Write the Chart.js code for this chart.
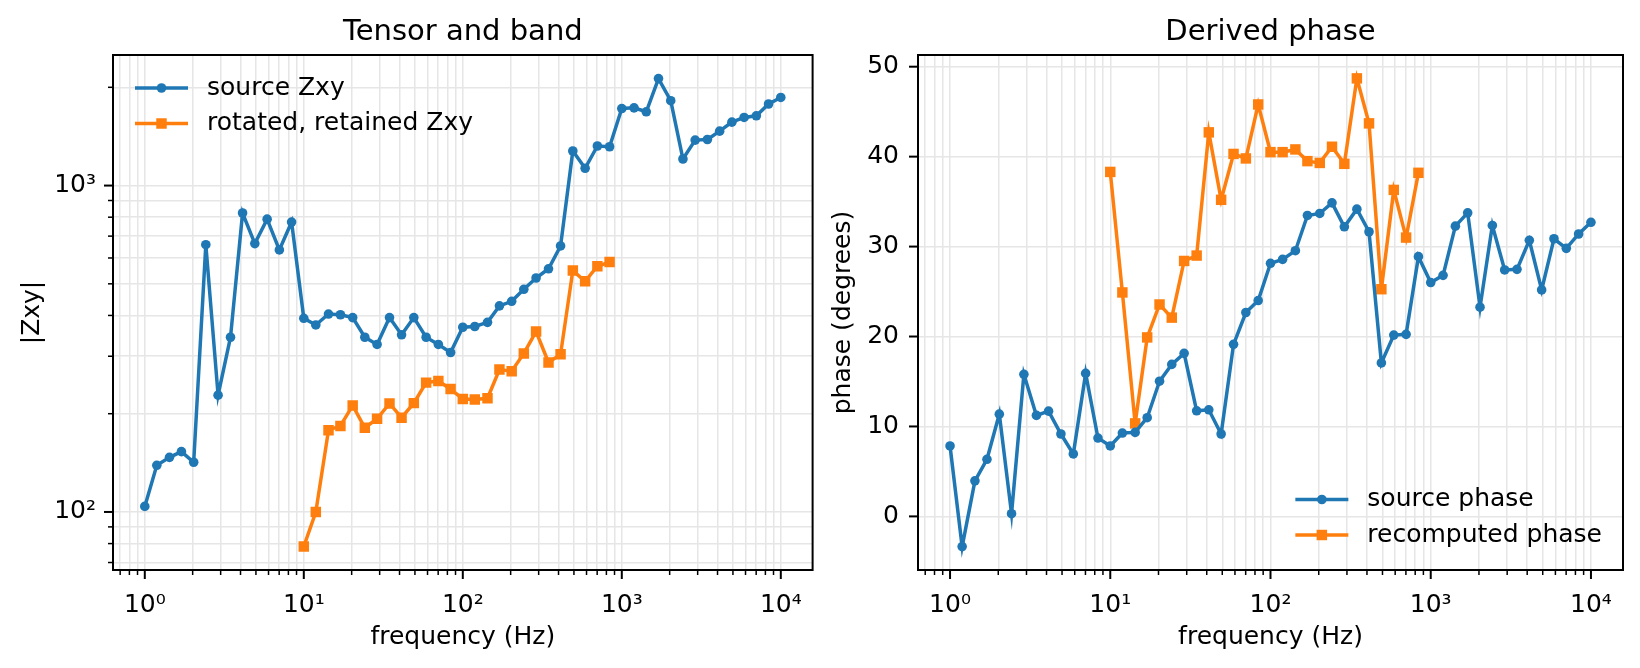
<!DOCTYPE html>
<html>
<head>
<meta charset="utf-8">
<script src="https://cdn.jsdelivr.net/npm/chart.js@4.4.1/dist/chart.umd.min.js"></script>
<style>
  html, body { margin: 0; padding: 0; background: #fff; }
  #wrap { position: relative; width: 1640px; height: 668px; }
  canvas { position: absolute; top: 0; }
</style>
</head>
<body>
<div id="wrap">
  <canvas id="zxyChart" width="820" height="668" style="left:0"></canvas>
  <canvas id="phaseChart" width="820" height="668" style="left:820px"></canvas>
</div>
<script>
// frequencies (Hz), 13 per decade
var freqHz = [1, 1.19, 1.43, 1.70, 2.03, 2.42, 2.89, 3.46, 4.12, 4.92, 5.88, 7.02, 8.38,
  10, 11.9, 14.3, 17.0, 20.3, 24.2, 28.9, 34.6, 41.2, 49.2, 58.8, 70.2, 83.8,
  100, 119, 143, 170, 203, 242, 289, 346, 412, 492, 588, 702, 838,
  1000, 1194, 1425, 1701, 2031, 2424, 2894, 3455, 4125, 4924, 5878, 7017, 8377, 10000];
// retained band: 10 Hz .. 838 Hz
var bandFreqHz = freqHz.slice(13, 39);

var sourceZxy = [104, 139, 147, 153, 142, 659, 228, 343, 824, 664, 789, 635, 773,
  392, 374, 404, 402, 394, 343, 326, 394, 349, 394, 343, 326, 308,
  368, 370, 381, 428, 442, 481, 521, 556, 653, 1276, 1130, 1322, 1315,
  1722, 1730, 1683, 2127, 1820, 1206, 1378, 1384, 1468, 1564, 1617, 1636, 1778, 1862];
var retainedZxy = [78.4, 100, 178, 183.5, 212, 181, 193, 215, 194.5, 215.5, 249, 252, 238,
  222, 221, 223, 273, 270, 306, 357, 287, 304, 549, 509, 566, 583];

var sourcePhase = [7.83, -3.36, 3.95, 6.35, 11.37, 0.30, 15.8, 11.23, 11.7, 9.16, 6.94, 15.9, 8.71,
  7.83, 9.27, 9.34, 10.97, 15.03, 16.9, 18.13, 11.74, 11.85, 9.16, 19.13, 22.67, 24.0,
  28.14, 28.58, 29.54, 33.46, 33.68, 34.86, 32.2, 34.16, 31.65, 17.06, 20.16, 20.24, 28.88,
  26.0, 26.8, 32.27, 33.75, 23.26, 32.35, 27.4, 27.47, 30.69, 25.18, 30.87, 29.8, 31.4, 32.7];
var recomputedPhase = [38.3, 24.9, 10.34, 19.9, 23.56, 22.1, 28.4, 29.0, 42.7, 35.2, 40.3, 39.8, 45.8,
  40.5, 40.5, 40.8, 39.5, 39.3, 41.1, 39.2, 48.7, 43.7, 25.26, 36.3, 31.0, 38.2];

var phaseTicks = [0, 10, 20, 30, 40, 50];

var BLUE = '#1f77b4';
var ORANGE = '#ff7f0e';
var GRID = '#e6e6e6';

Chart.defaults.font.family = '"DejaVu Sans", sans-serif';
Chart.defaults.color = '#000';

function xy(xs, ys) {
  return xs.map(function (x, i) { return { x: x, y: ys[i] }; });
}

function isDecade(v) {
  var e = Math.log10(v);
  return Math.abs(e - Math.round(e)) < 1e-6;
}

var SUP = { '0': '\u2070', '1': '\u00b9', '2': '\u00b2', '3': '\u00b3', '4': '\u2074' };
function decadeLabel(v) {
  if (!isDecade(v)) return '';
  return '10' + String(Math.round(Math.log10(v))).split('').map(function (c) { return SUP[c]; }).join('');
}

// 1..9 x 10^n ticks inside the axis range
function logTicks(scale) {
  var out = [];
  for (var e = Math.floor(Math.log10(scale.min)); e <= Math.ceil(Math.log10(scale.max)); e++) {
    for (var m = 1; m < 10; m++) {
      var v = m * Math.pow(10, e);
      if (v >= scale.min && v <= scale.max) out.push({ value: v });
    }
  }
  scale.ticks = out;
}

// keep the plot box fixed: no extra room for overhanging labels
function noPad(s) {
  s.paddingLeft = 0; s.paddingRight = 0; s.paddingTop = 0; s.paddingBottom = 0;
}

// tick marks (major long, minor short) and the four spines
var frameTicks = {
  id: 'frameTicks',
  afterDraw: function (chart) {
    var ctx = chart.ctx, a = chart.chartArea;
    ctx.save();
    ctx.strokeStyle = '#000';
    ['x', 'y'].forEach(function (id) {
      var s = chart.scales[id];
      s.ticks.forEach(function (t) {
        var major = s.type !== 'logarithmic' || isDecade(t.value);
        var len = major ? 9 : 5;
        var p = s.getPixelForValue(t.value);
        ctx.lineWidth = major ? 2 : 1.5;
        ctx.beginPath();
        if (id === 'x') { ctx.moveTo(p, a.bottom); ctx.lineTo(p, a.bottom + len); }
        else { ctx.moveTo(a.left, p); ctx.lineTo(a.left - len, p); }
        ctx.stroke();
      });
    });
    ctx.lineWidth = 2;
    ctx.strokeRect(a.left, a.top, a.right - a.left, a.bottom - a.top);
    ctx.restore();
  }
};

// legend drawn inside the axes, no frame
var insideLegend = {
  id: 'insideLegend',
  afterDatasetsDraw: function (chart, args, opts) {
    var ctx = chart.ctx, a = chart.chartArea;
    var sets = chart.data.datasets;
    var handle = 53, gap = 19, rowH = 35.5;
    ctx.save();
    ctx.font = '25px "DejaVu Sans"';
    var textW = Math.max.apply(null, sets.map(function (d) { return ctx.measureText(d.label).width; }));
    var x0 = opts.corner === 'tl' ? a.left + 22 : a.right - 21 - (handle + gap + textW);
    var y0 = opts.corner === 'tl' ? a.top + 33 : a.bottom - 35 - rowH * (sets.length - 1);
    sets.forEach(function (d, i) {
      var y = y0 + i * rowH;
      ctx.strokeStyle = d.borderColor;
      ctx.lineWidth = d.borderWidth;
      ctx.beginPath();
      ctx.moveTo(x0, y);
      ctx.lineTo(x0 + handle, y);
      ctx.stroke();
      ctx.fillStyle = d.borderColor;
      var cx = x0 + handle / 2;
      if (d.pointStyle === 'rect') {
        var h = d.pointRadius * Math.SQRT1_2;
        ctx.fillRect(cx - h, y - h, 2 * h, 2 * h);
      } else {
        ctx.beginPath();
        ctx.arc(cx, y, d.pointRadius, 0, Math.PI * 2);
        ctx.fill();
      }
      ctx.fillStyle = '#000';
      ctx.textBaseline = 'middle';
      ctx.textAlign = 'left';
      ctx.fillText(d.label, x0 + handle + gap, y);
    });
    ctx.restore();
  }
};

function series(label, data, color, style) {
  return {
    label: label,
    data: data,
    borderColor: color,
    backgroundColor: color,
    borderWidth: 3.5,
    pointStyle: style,
    pointRadius: style === 'rect' ? 7.4 : 4.8,
    pointBorderWidth: 0,
    pointBackgroundColor: color,
    tension: 0,
    fill: false
  };
}

function freqAxis() {
  return {
    type: 'logarithmic',
    min: 0.631,
    max: 15849,
    bounds: 'data',
    afterBuildTicks: logTicks,
    afterFit: function (s) { s.height = 98; noPad(s); },
    grid: { color: GRID, lineWidth: 1.5, drawTicks: false },
    border: { display: false },
    ticks: {
      autoSkip: false, maxRotation: 0, minRotation: 0, padding: 20,
      font: { size: 25 }, color: '#000',
      callback: function (v) { return decadeLabel(v); }
    },
    title: { display: true, text: 'frequency (Hz)', font: { size: 25 }, color: '#000', padding: { top: 0, bottom: 16 } }
  };
}

function titleOpts(text) {
  return {
    display: true, text: text, fullSize: false,
    font: { size: 29, weight: 'normal' }, color: '#000',
    padding: { top: 15, bottom: 5.2 }
  };
}

// Tensor and band
var ctxZxy = document.getElementById('zxyChart').getContext('2d');
var zxyChart = new Chart(ctxZxy, {
  type: 'line',
  data: {
    datasets: [
      series('source Zxy', xy(freqHz, sourceZxy), BLUE, 'circle'),
      series('rotated, retained Zxy', xy(bandFreqHz, retainedZxy), ORANGE, 'rect')
    ]
  },
  options: {
    responsive: false,
    animation: false,
    devicePixelRatio: 1,
    layout: { padding: { left: 0, right: 2, top: 0, bottom: 0 } },
    scales: {
      x: freqAxis(),
      y: {
        type: 'logarithmic',
        min: 66.4,
        max: 2512,
        bounds: 'data',
        afterBuildTicks: logTicks,
        afterFit: function (s) { s.width = 113; noPad(s); },
        grid: { color: GRID, lineWidth: 1.5, drawTicks: false },
        border: { display: false },
        ticks: {
          autoSkip: false, padding: 17, font: { size: 25 }, color: '#000',
          callback: function (v) { return decadeLabel(v); }
        },
        title: { display: true, text: '|Zxy|', font: { size: 25 }, color: '#000', padding: { top: 17, bottom: 0 } }
      }
    },
    plugins: {
      legend: { display: false },
      tooltip: { enabled: false },
      title: titleOpts('Tensor and band'),
      insideLegend: { corner: 'tl' }
    }
  },
  plugins: [frameTicks, insideLegend]
});

// Derived phase
var ctxPhase = document.getElementById('phaseChart').getContext('2d');
var phaseChart = new Chart(ctxPhase, {
  type: 'line',
  data: {
    datasets: [
      series('source phase', xy(freqHz, sourcePhase), BLUE, 'circle'),
      series('recomputed phase', xy(bandFreqHz, recomputedPhase), ORANGE, 'rect')
    ]
  },
  options: {
    responsive: false,
    animation: false,
    devicePixelRatio: 1,
    layout: { padding: { left: 0, right: 17, top: 0, bottom: 0 } },
    scales: {
      x: freqAxis(),
      y: {
        type: 'linear',
        min: -5.96,
        max: 51.3,
        bounds: 'data',
        afterBuildTicks: function (s) { s.ticks = phaseTicks.map(function (v) { return { value: v }; }); },
        afterFit: function (s) { s.width = 98; noPad(s); },
        grid: { color: GRID, lineWidth: 1.5, drawTicks: false },
        border: { display: false },
        ticks: { autoSkip: false, padding: 19, font: { size: 25 }, color: '#000' },
        title: { display: true, text: 'phase (degrees)', font: { size: 25 }, color: '#000', padding: { top: 8, bottom: 0 } }
      }
    },
    plugins: {
      legend: { display: false },
      tooltip: { enabled: false },
      title: titleOpts('Derived phase'),
      insideLegend: { corner: 'br' }
    }
  },
  plugins: [frameTicks, insideLegend]
});
</script>
</body>
</html>
